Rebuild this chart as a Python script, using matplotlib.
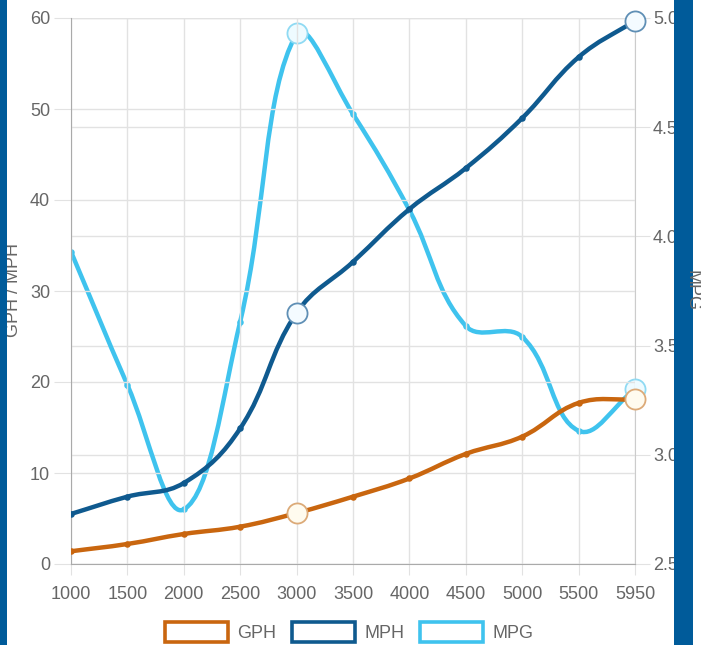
import numpy as np
import matplotlib
matplotlib.use("Agg")
from matplotlib import pyplot as plt
from matplotlib.path import Path
from matplotlib.patches import PathPatch, Rectangle

# data
rpm = ["1000", "1500", "2000", "2500", "3000", "3500", "4000", "4500", "5000", "5500", "5950"]
gph = [1.4, 2.2, 3.3, 4.1, 5.6, 7.4, 9.4, 12.1, 14.0, 17.7, 18.1]
mph = [5.5, 7.4, 8.9, 14.9, 27.6, 33.2, 39.0, 43.5, 49.0, 55.7, 59.7]
mpg = [3.93, 3.32, 2.75, 3.61, 4.93, 4.56, 4.12, 3.59, 3.54, 3.11, 3.30]
highlight = [4, 10]

left_ticks = [0, 10, 20, 30, 40, 50, 60]
right_ticks = [2.5, 3.0, 3.5, 4.0, 4.5, 5.0]

ORANGE = "#c9660f"
NAVY = "#0f5a8f"
SKY = "#3fc3ee"
BAND = "#005b9a"
GRID = "#e2e2e2"
TEXT = "#666666"

plt.rcParams["font.family"] = ["Liberation Sans", "DejaVu Sans"]
plt.rcParams["font.size"] = 13

W, H = 701, 645


def fx(px):
    return px / W


def fy(py):
    return 1 - py / H


def spline_path(ax, xs, ys, tension=0.4):
    # chart.js style bezier through the points (computed in pixel space)
    pts = ax.transData.transform(np.column_stack([xs, ys]))
    top = ax.transAxes.transform((0, 1))[1]
    bottom = ax.transAxes.transform((0, 0))[1]
    ctrl = []
    n = len(pts)
    for i in range(n):
        prev = pts[max(i - 1, 0)]
        cur = pts[i]
        nxt = pts[min(i + 1, n - 1)]
        d01 = np.hypot(*(cur - prev))
        d12 = np.hypot(*(nxt - cur))
        tot = d01 + d12
        fa = tension * d01 / tot if tot else 0
        fb = tension * d12 / tot if tot else 0
        inner = cur - fa * (nxt - prev)
        outer = cur + fb * (nxt - prev)
        inner[1] = min(max(inner[1], bottom), top)
        outer[1] = min(max(outer[1], bottom), top)
        ctrl.append((inner, outer))
    verts = [pts[0]]
    codes = [Path.MOVETO]
    for i in range(1, n):
        verts += [ctrl[i - 1][1], ctrl[i][0], pts[i]]
        codes += [Path.CURVE4] * 3
    verts = ax.transData.inverted().transform(np.array(verts))
    return Path(verts, codes)


def draw_series(ax, ys, color, edge, fill, z):
    xs = np.arange(len(ys))
    path = spline_path(ax, xs, ys)
    ax.add_patch(PathPatch(path, facecolor="none", edgecolor=color, lw=3.2,
                           capstyle="round", joinstyle="round", zorder=z))
    ax.scatter(xs, ys, s=22, color=color, zorder=z + 0.1, linewidths=0)
    hx = [xs[i] for i in highlight]
    hy = [ys[i] for i in highlight]
    ax.scatter(hx, hy, s=210, facecolor=fill, edgecolor=edge, linewidths=1.3,
               zorder=z + 0.2, clip_on=False)


fig = plt.figure(figsize=(W / 100, H / 100), dpi=100)
fig.patch.set_facecolor("white")

ax = fig.add_axes([fx(71), fy(564), fx(635) - fx(71), fy(18) - fy(564)])
ax2 = ax.twinx()

ax.set_xlim(0, len(rpm) - 1)
ax.set_ylim(0, 60)
ax2.set_ylim(2.5, 5.0)

ax.set_xticks(range(len(rpm)))
ax.set_xticklabels(rpm)
ax.set_yticks(left_ticks)
ax2.set_yticks(right_ticks)
ax2.set_yticklabels([f"{t:.1f}" for t in right_ticks])

ax.grid(True, color=GRID, lw=1)
ax2.grid(True, axis="y", color=GRID, lw=1)
ax.set_axisbelow(True)
ax2.set_axisbelow(True)

for a in (ax, ax2):
    for s in a.spines.values():
        s.set_visible(False)
ax.spines["left"].set_visible(True)
ax.spines["left"].set_color("#aaaaaa")
ax.spines["bottom"].set_visible(True)
ax.spines["bottom"].set_color("#aaaaaa")
ax2.spines["right"].set_visible(True)
ax2.spines["right"].set_color("#cccccc")

ax.tick_params(axis="x", length=8, color=GRID, pad=8, labelcolor=TEXT, labelsize=13)
ax.tick_params(axis="y", length=12, color=GRID, pad=3, labelcolor=TEXT, labelsize=13)
ax2.tick_params(axis="y", length=11, color=GRID, pad=2, labelcolor=TEXT, labelsize=13)

ax.set_zorder(ax2.get_zorder() + 1)
ax.patch.set_visible(False)

draw_series(ax2, mpg, SKY, "#8fdaf3", "#eefbff", 3)
draw_series(ax, mph, NAVY, "#5f8fb5", "#f4fbff", 4)
draw_series(ax, gph, ORANGE, "#dcaa78", "#fffbef", 5)

fig.text(fx(14), fy(290), "GPH / MPH", rotation=90, ha="center", va="center",
         color=TEXT, fontsize=13)

# blue page bands
fig.patches.append(Rectangle((0, 0), fx(7), 1, transform=fig.transFigure,
                             facecolor=BAND, edgecolor="none", zorder=10))
fig.patches.append(Rectangle((fx(674), 0), fx(693) - fx(674), 1, transform=fig.transFigure,
                             facecolor=BAND, edgecolor="none", zorder=10))
fig.text(fx(692), fy(291), "MPG", rotation=270, ha="center", va="center",
         color=TEXT, fontsize=13, zorder=11)

# legend
legend = [("GPH", ORANGE, 163), ("MPH", NAVY, 290), ("MPG", SKY, 418)]
for label, color, x0 in legend:
    fig.patches.append(Rectangle((fx(x0 + 1.5), fy(641.5)), fx(63), fy(622) - fy(641.5),
                                 transform=fig.transFigure, facecolor="white",
                                 edgecolor=color, lw=2.6, zorder=12))
    fig.text(fx(x0 + 74), fy(633), label, ha="left", va="center", color=TEXT, fontsize=13)

fig.savefig("out.png", dpi=100)
